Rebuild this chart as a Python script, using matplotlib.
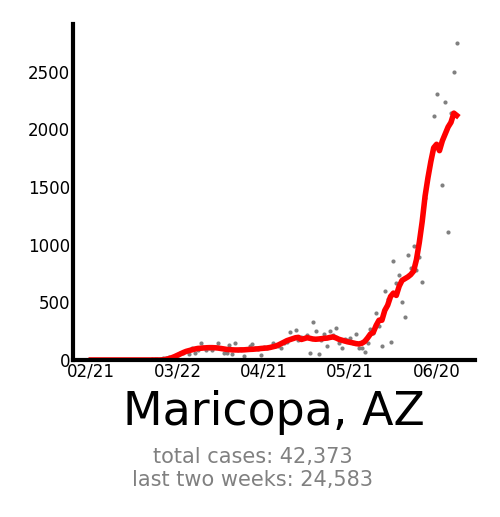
import numpy as np
import pandas as pd
import matplotlib
matplotlib.use("Agg")
import matplotlib.pyplot as plt
import matplotlib.dates as mdates

### Data: daily new cases, 02/21 -> 06/27
start_date = "2020-02-21"
daily_cases = [
    0, 0, 0, 0, 0, 0, 0, 0, 0, 0,
    0, 0, 0, 0, 0, 0, 0, 0, 1, 2,
    3, 5, 8, 6, 12, 15, 20, 25, 30, 35,
    45, 58, 60, 75, 49, 101, 58, 90, 145, 110,
    87, 100, 87, 110, 150, 100, 64, 64, 130, 49,
    150, 87, 90, 35, 95, 122, 139, 100, 95, 46,
    110, 100, 110, 145, 120, 125, 101, 150, 160, 246,
    190, 260, 174, 200, 190, 217, 58, 327, 252, 49,
    174, 226, 122, 255, 217, 275, 145, 101, 180, 170,
    188, 150, 226, 101, 101, 67, 150, 266, 230, 405,
    295, 122, 602, 527, 159, 862, 665, 738, 506, 370,
    911, 800, 992, 781, 897, 680, 1403, 1600, 1750, 2118,
    2306, 1850, 1513, 2233, 1108, 2141, 2494, 2748,
]

# 7-day average (red line), read per day
avg_cases = [
    0, 0, 0, 0, 0, 0, 0, 0, 0, 0,
    0, 0, 0, 0, 0, 0, 0, 0, 0, 0,
    0, 0, 0, 0, 0, 2, 6, 12, 20, 30,
    42, 55, 65, 75, 82, 88, 95, 100, 102, 104,
    106, 107, 107, 106, 104, 100, 96, 92, 90, 88,
    87, 87, 88, 88, 90, 92, 93, 95, 97, 100,
    102, 104, 108, 114, 120, 130, 142, 155, 168, 176,
    185, 193, 196, 178, 185, 193, 188, 182, 180, 182,
    185, 188, 190, 196, 200, 192, 180, 172, 165, 158,
    153, 148, 142, 139, 145, 160, 190, 225, 240, 300,
    345, 345, 430, 475, 550, 580, 560, 640, 690, 705,
    720, 740, 770, 870, 1020, 1200, 1420, 1580, 1720, 1840,
    1870, 1815, 1900, 1960, 2020, 2060, 2140, 2120,
]

place = "Maricopa, AZ"
total_cases = 42373
last_two_weeks = 24583

dates = pd.date_range(start_date, periods=len(daily_cases), freq="D")
tick_dates = pd.date_range(start_date, periods=5, freq="30D")

fig = plt.figure(figsize=(5, 5.17), dpi=100)
ax = fig.add_axes([73 / 500, 1 - 360 / 517, 402 / 500, 336 / 517])

ax.scatter(dates, daily_cases, s=9, color="gray", zorder=1, linewidths=0)
ax.plot(dates, avg_cases, color="red", linewidth=4, zorder=2)

ax.set_ylim(0, max(daily_cases) * 1.06)
ax.set_yticks([0, 500, 1000, 1500, 2000, 2500])
ax.set_xticks(tick_dates)
ax.xaxis.set_major_formatter(mdates.DateFormatter("%m/%d"))
ax.tick_params(length=0, labelsize=12, pad=2)

for side in ["top", "right"]:
    ax.spines[side].set_visible(False)
for side in ["left", "bottom"]:
    ax.spines[side].set_linewidth(3)

### Title + summary underneath
ax.text(0.5, -0.09, place, transform=ax.transAxes, ha="center", va="top", fontsize=33)
fig.text(0.506, 0.117, "total cases: {:,}".format(total_cases), ha="center", va="center",
         fontsize=15, color="gray")
fig.text(0.506, 0.072, "last two weeks: {:,}".format(last_two_weeks), ha="center", va="center",
         fontsize=15, color="gray")

fig.savefig("out.png", dpi=100)
